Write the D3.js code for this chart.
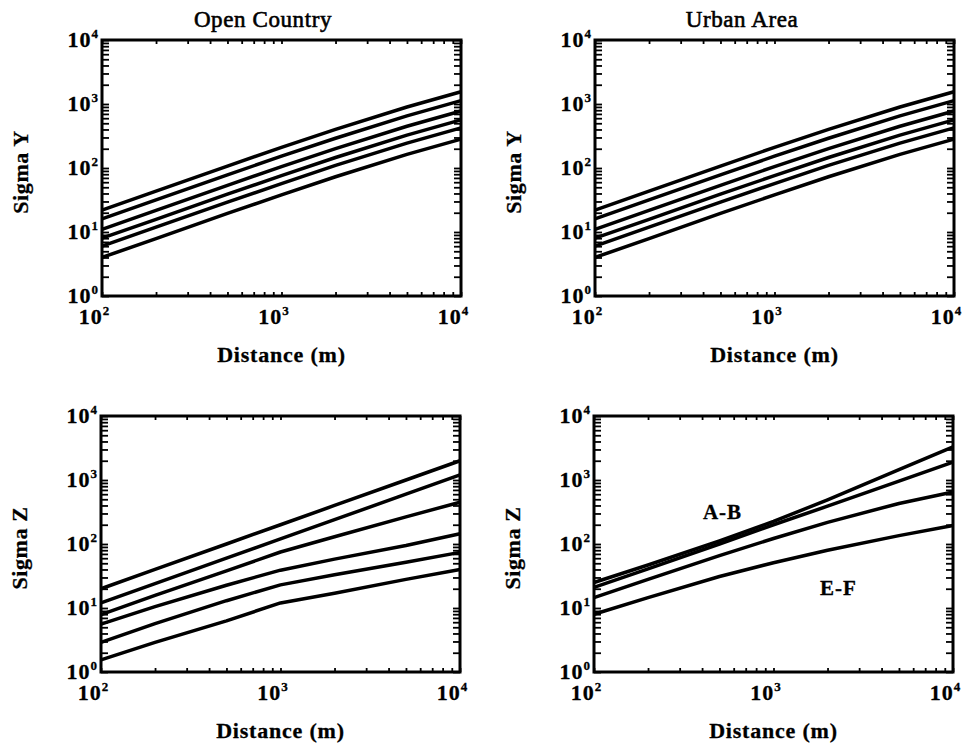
<!DOCTYPE html>
<html>
<head>
<meta charset="utf-8">
<script src="https://cdn.jsdelivr.net/npm/d3@7"></script>
<style>
  body { margin: 0; background: #fff; }
  text { font-family: "Liberation Serif", "Times New Roman", serif; fill: #000; }
</style>
</head>
<body>
<div id="chart"></div>
<script>
const distances = [100, 200, 500, 1000, 2000, 5000, 10000];

// Sigma Y, open country, classes A..F
const openSigmaY = [
  [22, 43.6, 107, 210, 402, 898, 1556],
  [16, 31.7, 78, 153, 292, 653, 1131],
  [11, 21.8, 53.7, 105, 201, 449, 778],
  [8, 15.8, 39, 76, 146, 327, 566],
  [6, 11.9, 29.3, 57, 110, 245, 424],
  [4, 7.9, 19.5, 38, 73, 163, 283]
];

// Sigma Y, urban area (drawn the same as open country in the figure)
const urbanSigmaY = [
  [22, 43.6, 107, 210, 402, 898, 1556],
  [16, 31.7, 78, 153, 292, 653, 1131],
  [11, 21.8, 53.7, 105, 201, 449, 778],
  [8, 15.8, 39, 76, 146, 327, 566],
  [6, 11.9, 29.3, 57, 110, 245, 424],
  [4, 7.9, 19.5, 38, 73, 163, 283]
];

// Sigma Z, open country, classes A..F
const openSigmaZ = [
  [20, 40, 100, 200, 400, 1000, 2000],
  [12, 24, 60, 120, 240, 600, 1200],
  [7.9, 15.7, 38, 75, 130, 265, 450],
  [5.6, 10.5, 22.7, 39, 58, 95, 145],
  [2.9, 5.7, 13, 23, 33, 52, 74],
  [1.55, 2.9, 6.3, 12, 17, 28, 40]
];

// Sigma Z, urban area: A-B, C, D, E-F
const urbanSigmaZ = [
  [25, 47, 112, 225, 490, 1450, 3300],
  [21, 41, 100, 200, 390, 960, 1900],
  [14.5, 28, 66, 122, 218, 430, 650],
  [8, 14.5, 31, 51, 80, 135, 195]
];

const xDecades = [2, 3, 4];
const yDecades = [0, 1, 2, 3, 4];
const xTitle = "Distance (m)";
const classNotes = [
  {text: "A-B", d: 520, v: 250},
  {text: "E-F", d: 2300, v: 16}
];

var pw = 359, ph = 256;
var panels = [
  {left: 102, top: 40, series: openSigmaY, yTitle: "Sigma Y", title: "Open Country", titleX: 263},
  {left: 595, top: 40, series: urbanSigmaY, yTitle: "Sigma Y", title: "Urban Area", titleX: 742},
  {left: 101, top: 416, series: openSigmaZ, yTitle: "Sigma Z"},
  {left: 594, top: 416, series: urbanSigmaZ, yTitle: "Sigma Z", notes: classNotes}
];

var svg = d3.select("#chart").append("svg")
  .attr("width", 964)
  .attr("height", 744);

function tickStyle(sel) {
  sel.select(".domain").remove();
  sel.selectAll("text").remove();
  sel.selectAll("line").attr("stroke", "#000").attr("stroke-width", 1.8);
}

function powerLabel(sel, exp) {
  sel.append("tspan").text("10");
  sel.append("tspan").attr("dy", -9).attr("font-size", 13).attr("letter-spacing", 0).text(exp);
}

panels.forEach(p => {
  var g = svg.append("g").attr("transform", "translate(" + p.left + "," + p.top + ")");

  var x = d3.scaleLog().domain([1e2, 1e4]).range([0, pw]);
  var y = d3.scaleLog().domain([1e0, 1e4]).range([ph, 0]);

  // inward ticks on all four sides
  g.append("g").attr("transform", "translate(0," + ph + ")")
    .call(d3.axisBottom(x).tickValues(x.ticks()).tickSize(-4)).call(tickStyle);
  g.append("g")
    .call(d3.axisTop(x).tickValues(x.ticks()).tickSize(-4)).call(tickStyle);
  g.append("g")
    .call(d3.axisLeft(y).tickValues(y.ticks()).tickSize(-7)).call(tickStyle);
  g.append("g").attr("transform", "translate(" + pw + ",0)")
    .call(d3.axisRight(y).tickValues(y.ticks()).tickSize(-7)).call(tickStyle);

  // frame
  g.append("rect")
    .attr("width", pw).attr("height", ph)
    .attr("fill", "none").attr("stroke", "#000").attr("stroke-width", 3);

  // curves
  var line = d3.line()
    .x(d => x(d[0]))
    .y(d => y(d[1]));
  p.series.forEach(vals => {
    g.append("path")
      .datum(distances.map((d, i) => [d, vals[i]]))
      .attr("fill", "none")
      .attr("stroke", "#000")
      .attr("stroke-width", 3.5)
      .attr("stroke-linejoin", "round")
      .attr("d", line);
  });

  // tick labels
  xDecades.forEach(e => {
    g.append("text")
      .attr("x", x(Math.pow(10, e)) - 8)
      .attr("y", ph + 28)
      .attr("text-anchor", "middle")
      .attr("font-size", 22).attr("font-weight", "bold").attr("letter-spacing", 1)
      .attr("stroke", "#000").attr("stroke-width", 0.3)
      .call(powerLabel, e);
  });
  yDecades.forEach(e => {
    g.append("text")
      .attr("x", -4)
      .attr("y", y(Math.pow(10, e)) + 7)
      .attr("text-anchor", "end")
      .attr("font-size", 22).attr("font-weight", "bold").attr("letter-spacing", 1)
      .attr("stroke", "#000").attr("stroke-width", 0.3)
      .call(powerLabel, e);
  });

  // axis titles
  g.append("text")
    .attr("x", pw / 2)
    .attr("y", ph + 66)
    .attr("text-anchor", "middle")
    .attr("font-size", 22).attr("font-weight", "bold").attr("letter-spacing", 0.8)
    .attr("stroke", "#000").attr("stroke-width", 0.3)
    .text(xTitle);
  g.append("text")
    .attr("transform", "translate(-74," + (ph / 2 + 4) + ") rotate(-90)")
    .attr("text-anchor", "middle")
    .attr("font-size", 22).attr("font-weight", "bold").attr("letter-spacing", 0.6)
    .attr("stroke", "#000").attr("stroke-width", 0.3)
    .text(p.yTitle);

  if (p.title) {
    svg.append("text")
      .attr("x", p.titleX)
      .attr("y", p.top - 13)
      .attr("text-anchor", "middle")
      .attr("font-size", 23).attr("letter-spacing", 0.6)
      .attr("stroke", "#000").attr("stroke-width", 0.6)
      .text(p.title);
  }

  if (p.notes) {
    p.notes.forEach(n => {
      g.append("text")
        .attr("x", x(n.d))
        .attr("y", y(n.v))
        .attr("text-anchor", "middle")
        .attr("font-size", 21).attr("font-weight", "bold").attr("letter-spacing", 1)
        .attr("stroke", "#000").attr("stroke-width", 0.3)
        .text(n.text);
    });
  }
});
</script>
</body>
</html>
